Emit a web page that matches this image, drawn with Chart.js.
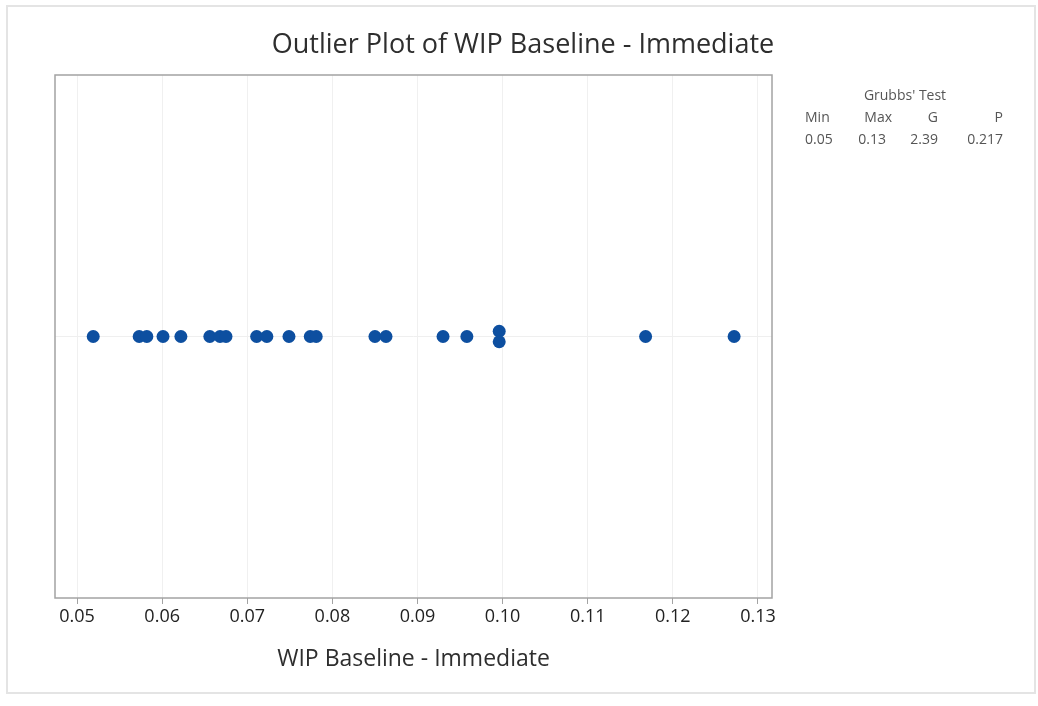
<!DOCTYPE html>
<html>
<head>
<meta charset="utf-8">
<script src="https://cdn.jsdelivr.net/npm/chart.js@4.4.1/dist/chart.umd.min.js"></script>
<style>
  html, body { margin: 0; padding: 0; background: #ffffff; }
  #wrap { position: relative; width: 1038px; height: 706px; }
</style>
</head>
<body>
<div id="wrap"><canvas id="c" width="1038" height="706"></canvas></div>
<script>
// ---- data ----
const chartTitle = "Outlier Plot of WIP Baseline - Immediate";
const axisTitle = "WIP Baseline - Immediate";
const xValues = [0.0519, 0.0573, 0.0582, 0.0601, 0.0622, 0.0656, 0.0668, 0.0675,
                 0.0711, 0.0723, 0.0749, 0.0774, 0.0781, 0.0850, 0.0863, 0.0930,
                 0.0958, 0.0996, 0.0996, 0.1168, 0.1272];
const yStack  = [0, 0, 0, 0, 0, 0, 0, 0,
                 0, 0, 0, 0, 0, 0, 0, 0,
                 0, 0.02, -0.02, 0, 0];
const tickValues = [0.05, 0.06, 0.07, 0.08, 0.09, 0.10, 0.11, 0.12, 0.13];
const tickLabels = ["0.05", "0.06", "0.07", "0.08", "0.09", "0.10", "0.11", "0.12", "0.13"];
const grubbsHeader = "Grubbs' Test";
const grubbsCols = ["Min", "Max", "G", "P"];
const grubbsVals = ["0.05", "0.13", "2.39", "0.217"];

const FONT = "'Open Sans', 'Noto Sans', sans-serif";

const points = xValues.map((x, i) => ({ x: x, y: yStack[i] }));

const decorPlugin = {
  id: 'decor',
  beforeDraw(chart) {
    const ctx = chart.ctx;
    ctx.save();
    ctx.fillStyle = '#ffffff';
    ctx.fillRect(0, 0, chart.width, chart.height);
    ctx.strokeStyle = '#e4e4e4';
    ctx.lineWidth = 2;
    ctx.strokeRect(7, 6, 1028, 687);
    ctx.restore();
  },
  afterDraw(chart) {
    const ctx = chart.ctx;
    const a = chart.chartArea;
    ctx.save();
    ctx.strokeStyle = '#a3a3a3';
    ctx.lineWidth = 1.5;
    ctx.strokeRect(a.left, a.top, a.right - a.left, a.bottom - a.top);
    ctx.fillStyle = '#2e2e2e';
    ctx.font = "27px " + FONT;
    ctx.textAlign = 'center';
    ctx.textBaseline = 'middle';
    ctx.fillText(chartTitle, 523, 45);
    ctx.fillStyle = '#555555';
    ctx.font = "14px " + FONT;
    ctx.textAlign = 'center';
    ctx.fillText(grubbsHeader, 905, 96);
    ctx.textAlign = 'left';
    ctx.fillText(grubbsCols[0], 805, 118);
    ctx.fillText(grubbsVals[0], 805, 140);
    ctx.textAlign = 'right';
    ctx.fillText(grubbsCols[1], 892, 118);
    ctx.fillText(grubbsVals[1], 886, 140);
    ctx.fillText(grubbsCols[2], 938, 118);
    ctx.fillText(grubbsVals[2], 938, 140);
    ctx.fillText(grubbsCols[3], 1003, 118);
    ctx.fillText(grubbsVals[3], 1003, 140);
    ctx.restore();
  }
};

new Chart(document.getElementById('c'), {
  type: 'scatter',
  data: {
    datasets: [{
      data: points,
      backgroundColor: '#0d4fa0',
      borderColor: '#0d4fa0',
      pointRadius: 6.5,
      pointHoverRadius: 6.5,
      borderWidth: 0
    }]
  },
  options: {
    responsive: false,
    animation: false,
    devicePixelRatio: 1,
    layout: { padding: { left: 55, right: 266, top: 75, bottom: 0 } },
    plugins: {
      legend: { display: false },
      tooltip: { enabled: false },
      title: { display: false }
    },
    scales: {
      x: {
        type: 'linear',
        min: 0.04741,
        max: 0.13165,
        afterBuildTicks(scale) { scale.ticks = tickValues.map(v => ({ value: v })); },
        afterFit(scale) { scale.height = 108; },
        ticks: {
          callback(value) {
            const i = tickValues.findIndex(t => Math.abs(t - value) < 1e-9);
            return i >= 0 ? tickLabels[i] : '';
          },
          color: '#222222',
          font: { family: FONT, size: 18 },
          padding: 2,
          maxRotation: 0,
          autoSkip: false
        },
        grid: {
          color: '#f0f0f0',
          lineWidth: 1,
          drawTicks: true,
          tickLength: 6,
          tickColor: '#a3a3a3'
        },
        border: { display: false },
        title: {
          display: true,
          text: axisTitle,
          color: '#2e2e2e',
          font: { family: FONT, size: 23 },
          padding: 33
        }
      },
      y: {
        type: 'linear',
        min: -1,
        max: 1,
        afterBuildTicks(scale) { scale.ticks = [{ value: 0 }]; },
        afterFit(scale) { scale.width = 0; },
        ticks: { display: false },
        grid: { color: '#efefef', lineWidth: 1, drawTicks: false },
        border: { display: false }
      }
    }
  },
  plugins: [decorPlugin]
});
</script>
</body>
</html>
